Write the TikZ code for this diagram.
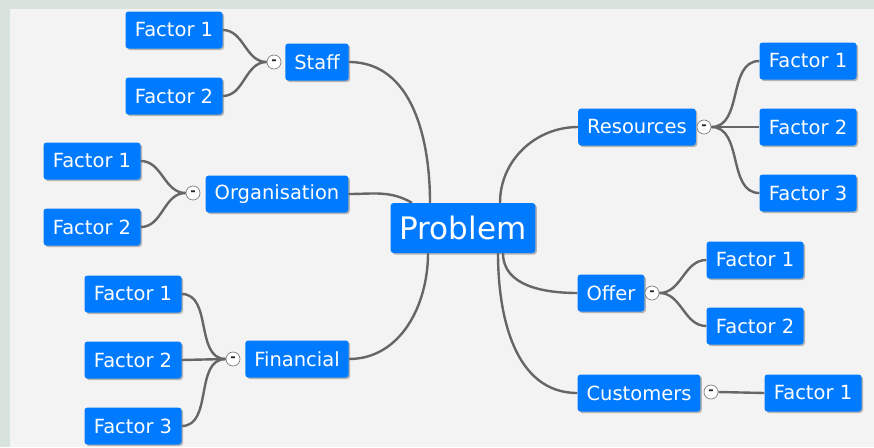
\documentclass[tikz,border=0pt]{standalone}
\usepackage{fontspec}
\setmainfont{DejaVu Sans}
\usetikzlibrary{shadows,backgrounds}

\definecolor{nodeblue}{RGB}{0,122,255}
\definecolor{linegray}{RGB}{102,102,102}
\definecolor{framegreen}{RGB}{216,227,221}
\definecolor{panelgray}{RGB}{243,243,243}

\begin{document}
\begin{tikzpicture}[
        x=1pt, y=-1pt,
        box/.style={rectangle, rounded corners=3pt, fill=nodeblue, text=white,
            minimum height=37pt, inner xsep=9pt, inner ysep=0pt,
            font=\fontsize{19.5}{22}\selectfont,
            drop shadow={shadow xshift=1.5pt, shadow yshift=-1.5pt, opacity=0.45, fill=black!60}},
        factor/.style={box, minimum width=97pt},
        bigbox/.style={box, minimum height=50pt, minimum width=142pt, font=\fontsize{31}{34}\selectfont},
        toggle/.style={circle, draw=gray, fill=white, line width=0.7pt, minimum size=14pt,
            inner sep=0pt, text=black!85, font=\fontsize{13}{13}\selectfont\bfseries},
        link/.style={draw=linegray, line width=2.4pt}
    ]
        \useasboundingbox (0,0) rectangle (874,447);

        % centre
        \node[bigbox] (problem) at (463,228) {Problem};

        % left side
        \node[box] (staff) at (317,62) {Staff};
        \node[factor] (staffa) at (174,30) {Factor 1};
        \node[factor] (staffb) at (174,96) {Factor 2};
        \node[toggle] (staffdot) at (274,62) {-};

        \node[box] (org) at (277,194) {Organisation};
        \node[factor] (orga) at (92,161) {Factor 1};
        \node[factor] (orgb) at (92,227) {Factor 2};
        \node[toggle] (orgdot) at (193,193) {-};

        \node[box] (fin) at (297,359) {Financial};
        \node[factor] (fina) at (133,294) {Factor 1};
        \node[factor] (finb) at (133,360) {Factor 2};
        \node[factor] (finc) at (133,426) {Factor 3};
        \node[toggle] (findot) at (233,359) {-};

        % right side
        \node[box] (res) at (637,127) {Resources};
        \node[factor] (resa) at (808,61) {Factor 1};
        \node[factor] (resb) at (808,127) {Factor 2};
        \node[factor] (resc) at (808,193) {Factor 3};
        \node[toggle] (resdot) at (704,127) {-};

        \node[box] (offer) at (611,293) {Offer};
        \node[factor] (offera) at (755,260) {Factor 1};
        \node[factor] (offerb) at (755,326) {Factor 2};
        \node[toggle] (offerdot) at (652,293) {-};

        \node[box] (cust) at (639,393) {Customers};
        \node[factor] (custa) at (813,393) {Factor 1};
        \node[toggle] (custdot) at (711,392) {-};

        \begin{scope}[on background layer]
            \fill[framegreen] (0,0) rectangle (874,447);
            \fill[panelgray] (10,9) rectangle (874,447);

            % main branches
            \draw[link] (staff.east) to[out=0,in=90] ([xshift=-33pt]problem.north);
            \draw[link] (org.east) to[out=0,in=150] ([xshift=-51pt]problem.north);
            \draw[link] (fin.east) to[out=0,in=-90] ([xshift=-35pt]problem.south);
            \draw[link] ([xshift=37pt]problem.north) to[out=90,in=180] (res.west);
            \draw[link] ([xshift=40pt]problem.south) to[out=-90,in=180] (offer.west);
            \draw[link] ([xshift=35pt]problem.south) to[out=-90,in=180] (cust.west);

            % factors
            \draw[link] (staffa.east) to[out=0,in=180] (staffdot.west);
            \draw[link] (staffb.east) to[out=0,in=180] (staffdot.west);
            \draw[link] (orga.east) to[out=0,in=180] (orgdot.west);
            \draw[link] (orgb.east) to[out=0,in=180] (orgdot.west);
            \draw[link] (fina.east) to[out=0,in=180] (findot.west);
            \draw[link] (finb.east) -- (findot.west);
            \draw[link] (finc.east) to[out=0,in=180] (findot.west);
            \draw[link] (resdot.east) to[out=0,in=180] (resa.west);
            \draw[link] (resdot.east) -- (resb.west);
            \draw[link] (resdot.east) to[out=0,in=180] (resc.west);
            \draw[link] (offerdot.east) to[out=0,in=180] (offera.west);
            \draw[link] (offerdot.east) to[out=0,in=180] (offerb.west);
            \draw[link] (custdot.east) -- (custa.west);
        \end{scope}
    \end{tikzpicture}
\end{document}
